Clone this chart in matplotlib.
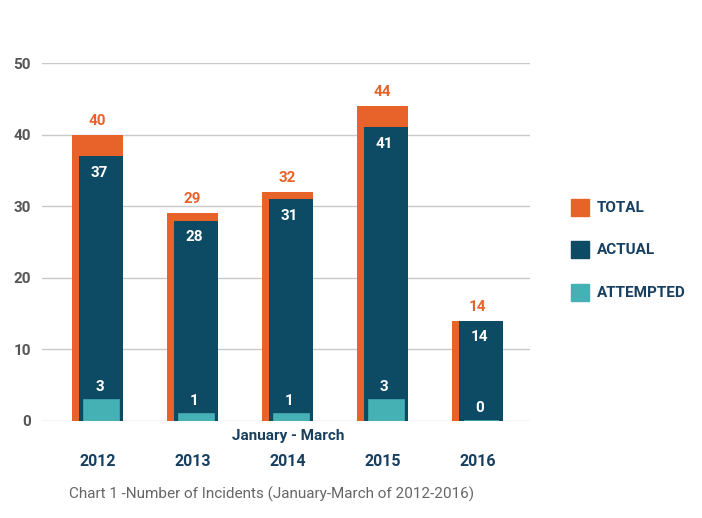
import matplotlib
matplotlib.use("Agg")
import matplotlib.pyplot as plt
import numpy as np
from matplotlib.patches import Rectangle

years = ["2012", "2013", "2014", "2015", "2016"]
total = [40, 29, 32, 44, 14]
actual = [37, 28, 31, 41, 14]
attempted = [3, 1, 1, 3, 0]
legend_labels = ["TOTAL", "ACTUAL", "ATTEMPTED"]
yticks = [0, 10, 20, 30, 40, 50]

ORANGE = "#E8632A"
DARK = "#0D4A63"
TEAL = "#46B1B5"
NAVY = "#173F5F"
GRAY = "#555555"

plt.rcParams['font.family'] = ['Roboto', 'DejaVu Sans']

fig = plt.figure(figsize=(7.02, 5.18), dpi=100)
ax = fig.add_axes([42/702, 97/518, 488/702, 358/518])

x = np.arange(len(years))
w_tot = 0.537
w_act = 0.463
w_att = 0.37

ax.bar(x, total, width=w_tot, color=ORANGE, zorder=2)
ax.bar(x + (w_tot - w_act) / 2, actual, width=w_act, color=DARK, zorder=3)
ax.bar(x + 0.04, attempted, width=w_att, color=TEAL, zorder=4,
       edgecolor=TEAL, linewidth=1.2)

for xi, t, a, m in zip(x, total, actual, attempted):
    ax.annotate(str(t), (xi, t), xytext=(0, 5), textcoords="offset points",
                ha="center", va="bottom", color=ORANGE, fontsize=11,
                fontweight="bold", zorder=5)
    ax.annotate(str(a), (xi + 0.02, a), xytext=(0, -7), textcoords="offset points",
                ha="center", va="top", color="white", fontsize=11,
                fontweight="bold", zorder=5)
    ax.annotate(str(m), (xi + 0.02, m), xytext=(0, 4), textcoords="offset points",
                ha="center", va="bottom", color="white", fontsize=11,
                fontweight="bold", zorder=5)

ax.set_ylim(0, 50)
ax.set_xlim(-0.584, 4.553)
ax.set_yticks(yticks)
ax.set_yticklabels([str(v) for v in yticks], fontsize=11, fontweight="bold", color=GRAY)
ax.tick_params(axis="y", length=0, pad=8)
ax.grid(axis="y", color="#C9C9C9", linewidth=1, zorder=0)
ax.set_axisbelow(True)
ax.set_xticks(x)
ax.set_xticklabels(years, fontsize=11.5, fontweight="bold", color=NAVY)
ax.tick_params(axis="x", length=0, pad=24)
for s in ax.spines.values():
    s.set_visible(False)

fig.text(288/702, 1 - 436/518, "January - March", ha="center", va="center",
         fontsize=11, fontweight="bold", color=NAVY)
fig.text(272/702, 1 - 494/518, "Chart 1 -Number of Incidents (January-March of 2012-2016)",
         ha="center", va="center", fontsize=11, color="#666666")

# legend
leg_colors = [ORANGE, DARK, TEAL]
leg_y = [208, 250, 293]
for lab, c, yy in zip(legend_labels, leg_colors, leg_y):
    fig.patches.append(Rectangle((571/702, 1 - (yy + 8)/518), 18/702, 17/518,
                                 transform=fig.transFigure, color=c))
    fig.text(597/702, 1 - yy/518, lab, ha="left", va="center", fontsize=11,
             fontweight="bold", color=NAVY)

fig.savefig("out.png", dpi=100)
